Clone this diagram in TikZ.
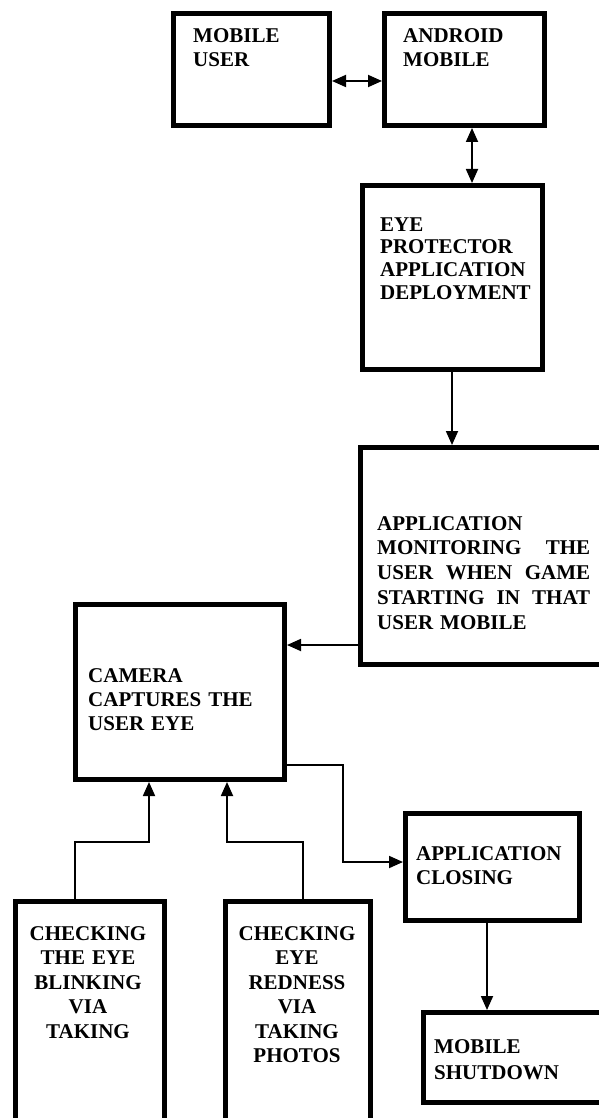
\documentclass[tikz,border=0pt]{standalone}
\usepackage{fontspec}
\setmainfont{Liberation Serif}
\usetikzlibrary{arrows.meta}
\begin{document}
\begin{tikzpicture}[x=1pt,y=-1pt,
  box/.style={draw,line width=5pt,rectangle,inner sep=0pt,anchor=north west},
  conn/.style={line width=1.8pt,arrows={-Triangle[length=14pt,width=12pt]}},
  dconn/.style={line width=1.8pt,arrows={Triangle[length=14pt,width=12pt]-Triangle[length=14pt,width=12pt]}},
  lbl/.style={inner sep=0pt,anchor=base west,align=left,text width=#1},
  clbl/.style={inner sep=0pt,anchor=base,align=center,text width=#1},
  fs/.style={font=\bfseries\fontsize{21}{#1}\selectfont}]
\fill[white] (0,0) rectangle (598,1118);
\useasboundingbox (0,0) rectangle (598,1118);

% boxes
\node[box,minimum width=156pt,minimum height=112pt] (u) at (171,11) {};
\node[box,minimum width=160pt,minimum height=112pt] (a) at (382,11) {};
\node[box,minimum width=180pt,minimum height=184pt] (e) at (360,183) {};
\node[box,minimum width=257pt,minimum height=217pt] (m) at (358,445) {};
\node[box,minimum width=209pt,minimum height=175pt] (c) at (73,602) {};
\node[box,minimum width=149pt,minimum height=236pt] (k1) at (13,899) {};
\node[box,minimum width=145pt,minimum height=236pt] (k2) at (223,899) {};
\node[box,minimum width=174pt,minimum height=107pt] (cl) at (403,811) {};
\node[box,minimum width=194pt,minimum height=90pt] (sd) at (421,1010) {};

% labels
\node[lbl=130pt,fs=24] (tu) at (193,43) {MOBILE\\USER};
\node[lbl=135pt,fs=24] (ta) at (403,43) {ANDROID\\MOBILE};
\node[lbl=160pt,fs=22.7] (te) at (380,231) {EYE\\PROTECTOR\\APPLICATION\\DEPLOYMENT};
\node[lbl=213pt,fs=24.75] (tm) at (377,530) {APPLICATION\\\makebox[213pt][l]{MONITORING\hfill THE}\\\makebox[213pt][l]{USER\hfill WHEN\hfill GAME}\\\makebox[213pt][l]{STARTING\hfill IN\hfill THAT}\\USER MOBILE};
\node[lbl=190pt,fs=24] (tc) at (88,682) {CAMERA\\CAPTURES THE\\USER EYE};
\node[lbl=160pt,fs=24] (tcl) at (416,860) {APPLICATION\\CLOSING};
\node[lbl=160pt,fs=26] (tsd) at (434,1053) {MOBILE\\SHUTDOWN};
\node[clbl=149pt,fs=24.5] (tk1) at (88,940) {CHECKING\\THE EYE\\BLINKING\\VIA\\TAKING};
\node[clbl=145pt,fs=24.5] (tk2) at (297,940) {CHECKING\\EYE\\REDNESS\\VIA\\TAKING\\PHOTOS};

% helper coordinates
\coordinate (h81) at (0,81);
\coordinate (v472) at (472,0);
\coordinate (v452) at (452,0);
\coordinate (h645) at (0,645);
\coordinate (h765) at (0,765);
\coordinate (h862) at (0,862);
\coordinate (v75) at (75,0);
\coordinate (v149) at (149,0);
\coordinate (v303) at (303,0);
\coordinate (v227) at (227,0);
\coordinate (v487) at (487,0);

% connectors
\draw[dconn] (u.east |- h81) -- (a.west |- h81);
\draw[dconn] (a.south -| v472) -- (e.north -| v472);
\draw[conn] (e.south -| v452) -- (m.north -| v452);
\draw[conn] (m.west |- h645) -- (c.east |- h645);
\draw[conn] (c.east |- h765) -- ++(56,0) |- (cl.west |- h862);
\draw[conn] (k1.north -| v75) -- ++(0,-57) -| (c.south -| v149);
\draw[conn] (k2.north -| v303) -- ++(0,-57) -| (c.south -| v227);
\draw[conn] (cl.south -| v487) -- (sd.north -| v487);
\end{tikzpicture}
\end{document}
